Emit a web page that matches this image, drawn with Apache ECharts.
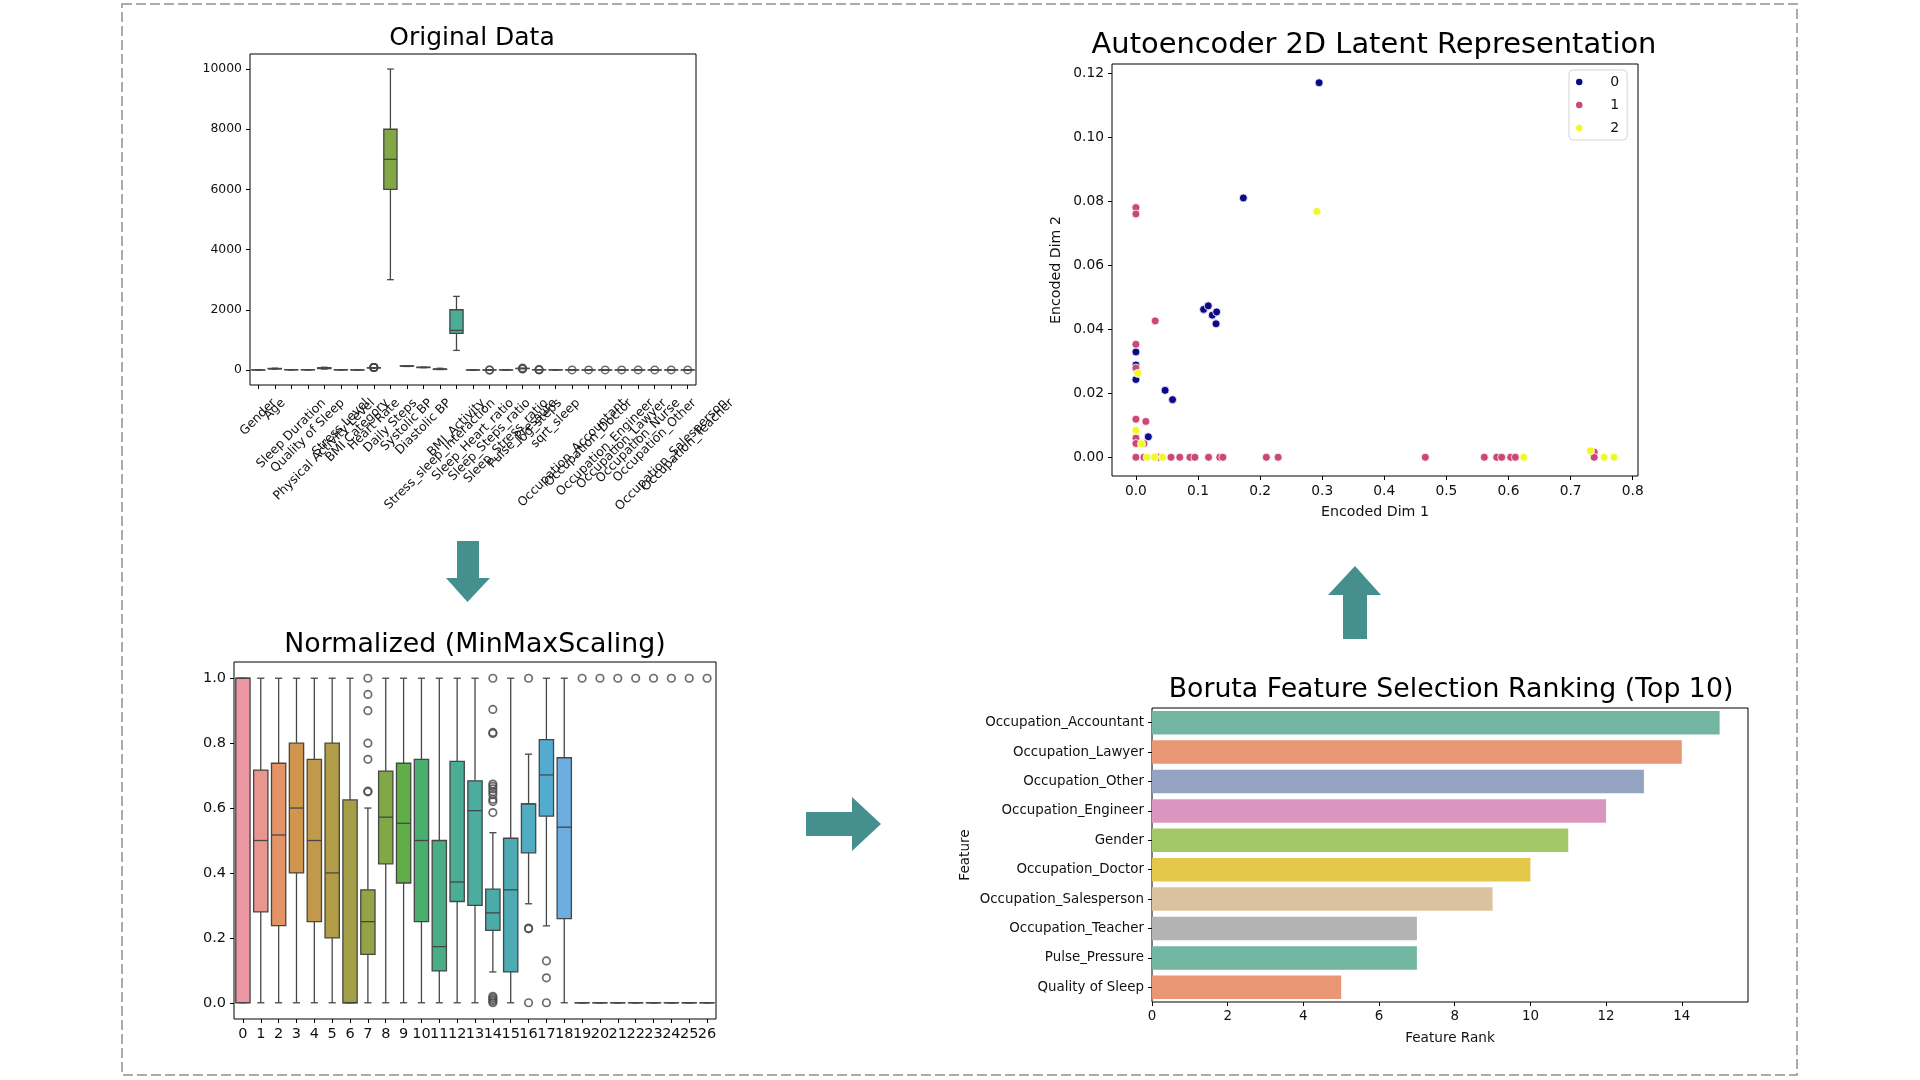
<!DOCTYPE html>
<html><head><meta charset="utf-8">
<script src="https://cdn.jsdelivr.net/npm/echarts@6/dist/echarts.min.js"></script>
<style>html,body{margin:0;padding:0;background:#fff}#chart{width:1920px;height:1080px}</style>
</head><body><div id="chart"></div>
<script>
// ---------------- DATA ----------------
const featureNames = ['Gender','Age','Sleep Duration','Quality of Sleep','Physical Activity Level','Stress Level','BMI Category','Heart Rate','Daily Steps','Systolic BP','Diastolic BP','Stress_sleep_interaction','BMI_Activity','Sleep_Heart_ratio','Sleep_Steps_ratio','Sleep_Stress_ratio','Pulse_Pressure','log_steps','sqrt_sleep','Occupation_Accountant','Occupation_Doctor','Occupation_Engineer','Occupation_Lawyer','Occupation_Nurse','Occupation_Other','Occupation_Salesperson','Occupation_Teacher'];
// [min, q1, median, q3, max]
const origBoxes = [
 [0,0,1,1,1],[27,35,43,50,59],[5.8,6.4,7.2,7.8,8.5],[4,6,7,8,9],[30,45,60,75,90],[3,4,5,7,8],[0,0,0,1.875,3],
 [65,68,70,72,77],[3000,6000,7000,8000,10000],[115,125,130,135,142],[75,80,85,90,95],[14,18.1,21.3,35,56],
 [650,1215,1315,2000,2445],[0.068,0.083,0.09,0.1,0.12],[0.0006,0.0009,0.001,0.0011,0.0014],[0.72,0.95,1.45,2.0,2.83],
 [40.7,46.2,51.5,51.5,56.8],[8.29,8.7,8.85,8.99,9.21],[2.41,2.53,2.68,2.79,2.92],
 [0,0,0,0,0],[0,0,0,0,0],[0,0,0,0,0],[0,0,0,0,0],[0,0,0,0,0],[0,0,0,0,0],[0,0,0,0,0],[0,0,0,0,0]
];
// [column index, value]
const origOutliers = [
 [7,78],[7,80],[7,81],[7,83],[7,84],[7,85],[14,0.0024],[14,0.0003],[16,30],[16,38],[16,65],[17,8.0],[17,8.1],[17,8.16],
 [19,1],[20,1],[21,1],[22,1],[23,1],[24,1],[25,1],[26,1]
];
const normLabels = ['0','1','2','3','4','5','6','7','8','9','10','11','12','13','14','15','16','17','18','19','20','21','22','23','24','25','26'];
const normBoxes = [
 [0,0,1,1,1],[0,0.28,0.5,0.717,1],[0,0.238,0.517,0.738,1],[0,0.4,0.6,0.8,1],[0,0.25,0.5,0.75,1],[0,0.2,0.4,0.8,1],
 [0,0,0,0.625,1],[0,0.149,0.25,0.348,0.6],[0,0.428,0.572,0.714,1],[0,0.369,0.553,0.738,1],[0,0.25,0.5,0.75,1],
 [0,0.098,0.173,0.5,1],[0,0.312,0.372,0.744,1],[0,0.3,0.592,0.684,1],[0.095,0.223,0.277,0.35,0.524],
 [0,0.095,0.348,0.507,1],[0.305,0.462,0.613,0.613,0.766],[0.237,0.575,0.702,0.811,1],[0,0.259,0.541,0.755,1],
 [0,0,0,0,0],[0,0,0,0,0],[0,0,0,0,0],[0,0,0,0,0],[0,0,0,0,0],[0,0,0,0,0],[0,0,0,0,0],[0,0,0,0,0]
];
const normOutliers = [
 [7,1.0],[7,0.95],[7,0.9],[7,0.8],[7,0.75],[7,0.65],[7,0.652],
 [14,1.0],[14,0.904],[14,0.83],[14,0.833],[14,0.674],[14,0.667],[14,0.659],[14,0.65],[14,0.641],[14,0.627],[14,0.62],[14,0.586],
 [14,0.0],[14,0.005],[14,0.01],[14,0.015],[14,0.02],
 [16,1.0],[16,0.228],[16,0.23],[16,0.0],
 [17,0.129],[17,0.077],[17,0.0],
 [19,1],[20,1],[21,1],[22,1],[23,1],[24,1],[25,1],[26,1]
];
const origTicks = [0,2000,4000,6000,8000,10000];
const normTicks = [0,0.2,0.4,0.6,0.8,1.0];

const latent0 = [[0.295,0.117],[0.173,0.081],[0.109,0.0462],[0.1165,0.0473],[0.123,0.0444],[0.130,0.0454],[0.129,0.0417],[0.0,0.0329],[0.0,0.0288],[0.0,0.0243],[0.047,0.0209],[0.059,0.018],[0.020,0.0064]];
const latent1 = [[0,0.078],[0,0.076],[0.031,0.0426],[0,0.0353],[0,0.0279],[0,0.0119],[0.016,0.0112],[0,0.006],[0,0.0043],[0.013,0.0043],
 [0,0],[0.013,0],[0.031,0],[0.037,0],[0.0565,0],[0.0706,0],[0.087,0],[0.095,0],[0.117,0],[0.135,0],[0.14,0],[0.21,0],[0.229,0],
 [0.466,0],[0.561,0],[0.581,0],[0.589,0],[0.6035,0],[0.611,0],[0.738,0.0016],[0.738,0]];
const latent2 = [[0.2915,0.0768],[0.003,0.0262],[0,0.0084],[0.009,0.0042],[0.018,0],[0.03,0],[0.043,0],[0.6246,0],[0.732,0.002],[0.754,0],[0.77,0]];
const latentXTicks = [0,0.1,0.2,0.3,0.4,0.5,0.6,0.7,0.8];
const latentYTicks = [0,0.02,0.04,0.06,0.08,0.10,0.12];

const borutaFeatures = ['Occupation_Accountant','Occupation_Lawyer','Occupation_Other','Occupation_Engineer','Gender','Occupation_Doctor','Occupation_Salesperson','Occupation_Teacher','Pulse_Pressure','Quality of Sleep'];
const borutaRank = [15,14,13,12,11,10,9,7,7,5];
const rankTicks = [0,2,4,6,8,10,12,14];

// ---------------- COLOURS (seaborn-style palettes) ----------------
function rgbToHls(r,g,b){const mx=Math.max(r,g,b),mn=Math.min(r,g,b),l=(mx+mn)/2;if(mx===mn)return[0,l,0];
 const s=l<=0.5?(mx-mn)/(mx+mn):(mx-mn)/(2-mx-mn);const rc=(mx-r)/(mx-mn),gc=(mx-g)/(mx-mn),bc=(mx-b)/(mx-mn);
 let h;if(r===mx)h=bc-gc;else if(g===mx)h=2+rc-bc;else h=4+gc-rc;h=((h/6)%1+1)%1;return[h,l,s];}
function hlsToRgb(h,l,s){if(s===0)return[l,l,l];const m2=l<=0.5?l*(1+s):l+s-l*s,m1=2*l-m2;
 const v=(hue)=>{hue=((hue%1)+1)%1;if(hue<1/6)return m1+(m2-m1)*hue*6;if(hue<0.5)return m2;if(hue<2/3)return m1+(m2-m1)*(2/3-hue)*6;return m1;};
 return[v(h+1/3),v(h),v(h-1/3)];}
function toHex(c){return '#'+c.map(v=>{const x=Math.round(Math.max(0,Math.min(1,v))*255);return(x<16?'0':'')+x.toString(16);}).join('');}
function hexToRgb(h){return[parseInt(h.substr(1,2),16)/255,parseInt(h.substr(3,2),16)/255,parseInt(h.substr(5,2),16)/255];}
function desat(rgb,p){const[h,l,s]=rgbToHls(...rgb);return hlsToRgb(h,l,s*p);}
function huslToRgb(H,S,L){
 const m=[[3.2406,-1.5372,-0.4986],[-0.9689,1.8758,0.0415],[0.0557,-0.2040,1.0570]];
 const refU=0.19784,refV=0.46834,labE=0.008856,labK=903.3;
 function maxC(L,H){const hr=H/360*2*Math.PI,sH=Math.sin(hr),cH=Math.cos(hr);const s1=Math.pow(L+16,3)/1560896;const s2=s1>labE?s1:L/labK;let res=Infinity;
  for(const[m1,m2,m3]of m){const top=(0.99915*m1+1.05122*m2+1.14460*m3)*s2;const rb=0.86330*m3-0.17266*m2;const lb=0.12949*m3-0.38848*m1;const bot=(rb*sH+lb*cH)*s2;
   for(const t of[0,1]){const C=L*(top-1.05122*t)/(bot+0.17266*sH*t);if(C>0&&C<res)res=C;}}return res;}
 let C=maxC(L,H)/100*S;const hr=H/360*2*Math.PI;const U=C*Math.cos(hr),V=C*Math.sin(hr);
 if(L===0)return[0,0,0];
 const t=(L+16)/116;const Y=Math.pow(t,3)>labE?Math.pow(t,3):(116*t-16)/labK;
 const vU=U/(13*L)+refU,vV=V/(13*L)+refV;const X=-(9*Y*vU)/((vU-4)*vV-vU*vV);const Z=(9*Y-15*vV*Y-vV*X)/(3*vV);
 return m.map(r=>{const c=r[0]*X+r[1]*Y+r[2]*Z;return Math.max(0,Math.min(1,c<=0.0031308?12.92*c:1.055*Math.pow(c,1/2.4)-0.055));});}
const NC = featureNames.length;
const boxRgb = []; for(let i=0;i<NC;i++){let h=(i/NC+0.01)%1*359;boxRgb.push(desat(huslToRgb(h,0.9*99,0.7*99),0.75));}
const boxColors = boxRgb.map(toHex);
const lum = Math.min(...boxRgb.map(c=>rgbToHls(...c)[1]))*0.6;
const lineGray = toHex([lum,lum,lum]);
const set2 = ['#66c2a5','#fc8d62','#8da0cb','#e78ac3','#a6d854','#ffd92f','#e5c494','#b3b3b3'];
const barColors = borutaRank.map((_,i)=>toHex(desat(hexToRgb(set2[i%8]),0.75)));
const classColors = ['#0d0887','#cc4778','#f0f921'];

// ---------------- helpers ----------------
const FONT = 'DejaVu Sans';
const mctx = document.createElement('canvas').getContext('2d');
function textW(t,size){mctx.font=size+'px "'+FONT+'"';return mctx.measureText(t).width;}

function makeBoxRender(){
 return function(params, api){
  const x=api.value(0);
  const pMin=api.coord([x,api.value(1)]),pQ1=api.coord([x,api.value(2)]),pMed=api.coord([x,api.value(3)]),pQ3=api.coord([x,api.value(4)]),pMax=api.coord([x,api.value(5)]);
  const bw=api.size([1,0])[0]*0.8, cw=bw*0.5, cx=pMed[0];
  const ls={stroke:lineGray,lineWidth:1.3};
  return {type:'group',children:[
   {type:'line',shape:{x1:cx,y1:pQ1[1],x2:cx,y2:pMin[1]},style:ls},
   {type:'line',shape:{x1:cx,y1:pQ3[1],x2:cx,y2:pMax[1]},style:ls},
   {type:'line',shape:{x1:cx-cw/2,y1:pMin[1],x2:cx+cw/2,y2:pMin[1]},style:ls},
   {type:'line',shape:{x1:cx-cw/2,y1:pMax[1],x2:cx+cw/2,y2:pMax[1]},style:ls},
   {type:'rect',shape:{x:cx-bw/2,y:pQ3[1],width:bw,height:Math.max(pQ1[1]-pQ3[1],0.01)},style:{fill:boxColors[x],stroke:lineGray,lineWidth:1.3}},
   {type:'line',shape:{x1:cx-bw/2,y1:pMed[1],x2:cx+bw/2,y2:pMed[1]},style:ls}
  ]};
 };
}
const origBoxData = origBoxes.map((b,i)=>[i].concat(b));
const normBoxData = normBoxes.map((b,i)=>[i].concat(b));

const ORIG_FS = 12.4;
// matplotlib-style rotated labels (bbox centred under each tick), positioned through the axis scale
const origLabelData = featureNames.map((n,i)=>[i,-500]);
function origLabelRender(params, api){
 const i=api.value(0);
 const p=api.coord([i,api.value(1)]);
 const name=featureNames[i];
 const L=textW(name,ORIG_FS), h=ORIG_FS*1.16;
 const bh=(L+h)*Math.SQRT1_2;
 return {type:'text',x:p[0],y:p[1]+11+bh/2,rotation:Math.PI/4,
  style:{text:name,font:ORIG_FS+'px "'+FONT+'"',fill:'#111',align:'center',verticalAlign:'middle'}};
}

const gridBase = {show:true,borderColor:'#000',borderWidth:1,backgroundColor:'transparent',containLabel:false,outerBoundsMode:'none'};
const tickStyle = {show:true,length:4,lineStyle:{color:'#000',width:1}};
const noLine = {show:false,onZero:false};
const labelColor = '#111';

const option = {
 animation:false,
 backgroundColor:'#fff',
 textStyle:{fontFamily:FONT},
 grid:[
  Object.assign({left:250,top:54,width:446,height:331},gridBase),
  Object.assign({left:234,top:662,width:482,height:357},gridBase),
  Object.assign({left:1112,top:64,width:526,height:412},gridBase),
  Object.assign({left:1152,top:708,width:596,height:294},gridBase)
 ],
 xAxis:[
  {type:'category',gridIndex:0,data:featureNames,boundaryGap:true,axisLine:noLine,
   axisTick:Object.assign({alignWithLabel:true,interval:0},tickStyle),
   axisLabel:{show:false,interval:0}},
  {type:'category',gridIndex:1,data:normLabels,boundaryGap:true,axisLine:noLine,
   axisTick:Object.assign({alignWithLabel:true,interval:0},tickStyle),
   axisLabel:{interval:0,fontSize:14.5,color:labelColor,margin:8,fontFamily:FONT}},
  {type:'value',gridIndex:2,min:-0.0385,max:0.8085,axisLine:noLine,splitLine:{show:false},
   axisTick:Object.assign({customValues:latentXTicks},tickStyle),
   axisLabel:{customValues:latentXTicks,formatter:v=>v.toFixed(1),fontSize:13.8,color:labelColor,margin:8,fontFamily:FONT},
   name:'Encoded Dim 1',nameLocation:'middle',nameGap:29,nameTextStyle:{fontSize:14.2,color:labelColor,fontFamily:FONT,verticalAlign:'top'}},
  {type:'value',gridIndex:3,min:0,max:15.75,axisLine:noLine,splitLine:{show:false},
   axisTick:Object.assign({customValues:rankTicks},tickStyle),
   axisLabel:{customValues:rankTicks,formatter:v=>String(v),fontSize:13.4,color:labelColor,margin:8,fontFamily:FONT},
   name:'Feature Rank',nameLocation:'middle',nameGap:29,nameTextStyle:{fontSize:13.6,color:labelColor,fontFamily:FONT,verticalAlign:'top'}}
 ],
 yAxis:[
  {type:'value',gridIndex:0,min:-500,max:10500,axisLine:noLine,splitLine:{show:false},
   axisTick:Object.assign({customValues:origTicks},tickStyle),
   axisLabel:{customValues:origTicks,formatter:v=>String(v),fontSize:ORIG_FS,color:labelColor,margin:8,fontFamily:FONT}},
  {type:'value',gridIndex:1,min:-0.05,max:1.05,axisLine:noLine,splitLine:{show:false},
   axisTick:Object.assign({customValues:normTicks},tickStyle),
   axisLabel:{customValues:normTicks,formatter:v=>v.toFixed(1),fontSize:14.5,color:labelColor,margin:8,fontFamily:FONT}},
  {type:'value',gridIndex:2,min:-0.00585,max:0.12285,axisLine:noLine,splitLine:{show:false},
   axisTick:Object.assign({customValues:latentYTicks},tickStyle),
   axisLabel:{customValues:latentYTicks,formatter:v=>v.toFixed(2),fontSize:13.8,color:labelColor,margin:8,fontFamily:FONT},
   name:'Encoded Dim 2',nameLocation:'middle',nameGap:49,nameRotate:90,nameTextStyle:{fontSize:14.2,color:labelColor,fontFamily:FONT}},
  {type:'category',gridIndex:3,data:borutaFeatures,inverse:true,boundaryGap:true,axisLine:noLine,
   axisTick:Object.assign({alignWithLabel:true,interval:0},tickStyle),
   axisLabel:{interval:0,fontSize:13.4,color:labelColor,margin:8,fontFamily:FONT},
   name:'Feature',nameLocation:'middle',nameGap:180,nameRotate:90,nameTextStyle:{fontSize:13.6,color:labelColor,fontFamily:FONT}}
 ],
 legend:{data:['0','1','2'],orient:'vertical',left:1569,top:70,padding:[4,8,4,5],itemGap:7,itemWidth:30,itemHeight:8.5,
  borderColor:'#d5d5d5',borderWidth:1,borderRadius:4,backgroundColor:'#fff',
  textStyle:{fontSize:14,color:labelColor,fontFamily:FONT,lineHeight:16,padding:[0,0,0,11]}},
 series:[
  {type:'custom',name:'origBox',xAxisIndex:0,yAxisIndex:0,data:origBoxData,renderItem:makeBoxRender(),encode:{x:0,y:[1,2,3,4,5]},silent:true,z:2},
  {type:'scatter',name:'origOut',xAxisIndex:0,yAxisIndex:0,data:origOutliers,symbol:'circle',symbolSize:7.5,
   itemStyle:{color:'transparent',borderColor:lineGray,borderWidth:1.5},silent:true,z:3},
  {type:'custom',name:'origLabels',xAxisIndex:0,yAxisIndex:0,data:origLabelData,renderItem:origLabelRender,encode:{x:0,y:1},clip:false,silent:true,z:4},
  {type:'custom',name:'normBox',xAxisIndex:1,yAxisIndex:1,data:normBoxData,renderItem:makeBoxRender(),encode:{x:0,y:[1,2,3,4,5]},silent:true,z:2},
  {type:'scatter',name:'normOut',xAxisIndex:1,yAxisIndex:1,data:normOutliers,symbol:'circle',symbolSize:7.5,
   itemStyle:{color:'transparent',borderColor:lineGray,borderWidth:1.7},silent:true,z:3},
  {type:'scatter',name:'0',xAxisIndex:2,yAxisIndex:2,data:latent0,symbolSize:8,itemStyle:{color:classColors[0],borderColor:'#fff',borderWidth:0.8,opacity:1},z:3},
  {type:'scatter',name:'1',xAxisIndex:2,yAxisIndex:2,data:latent1,symbolSize:8,itemStyle:{color:classColors[1],borderColor:'#fff',borderWidth:0.8,opacity:1},z:3},
  {type:'scatter',name:'2',xAxisIndex:2,yAxisIndex:2,data:latent2,symbolSize:8,itemStyle:{color:classColors[2],borderColor:'#fff',borderWidth:0.8,opacity:1},z:3},
  {type:'bar',name:'rank',xAxisIndex:3,yAxisIndex:3,barCategoryGap:'20%',silent:true,
   data:borutaRank.map((v,i)=>({value:v,itemStyle:{color:barColors[i]}}))}
 ],
 graphic:[
  {type:'rect',shape:{x:122,y:4,width:1675,height:1071},style:{fill:'none',stroke:'#aeaaaa',lineWidth:2,lineDash:[10,4]},silent:true},
  {type:'polygon',shape:{points:[[457,541],[479,541],[479,578],[490,578],[467.5,602],[446,578],[457,578]]},style:{fill:'#468f8f'},silent:true},
  {type:'polygon',shape:{points:[[806,812],[852,812],[852,797],[881,824],[852,851],[852,836],[806,836]]},style:{fill:'#468f8f'},silent:true},
  {type:'polygon',shape:{points:[[1343,639],[1343,595],[1328,595],[1355,566],[1381,595],[1367,595],[1367,639]]},style:{fill:'#468f8f'},silent:true},
  {type:'text',x:472,y:38,style:{text:'Original Data',font:'25px "DejaVu Sans"',fill:'#000',align:'center',verticalAlign:'middle'},silent:true},
  {type:'text',x:475,y:645,style:{text:'Normalized (MinMaxScaling)',font:'26.8px "DejaVu Sans"',fill:'#000',align:'center',verticalAlign:'middle'},silent:true},
  {type:'text',x:1374,y:45,style:{text:'Autoencoder 2D Latent Representation',font:'28.9px "DejaVu Sans"',fill:'#000',align:'center',verticalAlign:'middle'},silent:true},
  {type:'text',x:1451,y:690,style:{text:'Boruta Feature Selection Ranking (Top 10)',font:'26.75px "DejaVu Sans"',fill:'#000',align:'center',verticalAlign:'middle'},silent:true}
 ]
};
const chart = echarts.init(document.getElementById('chart'),null,{renderer:'canvas',width:1920,height:1080});
chart.setOption(option);
</script></body></html>
